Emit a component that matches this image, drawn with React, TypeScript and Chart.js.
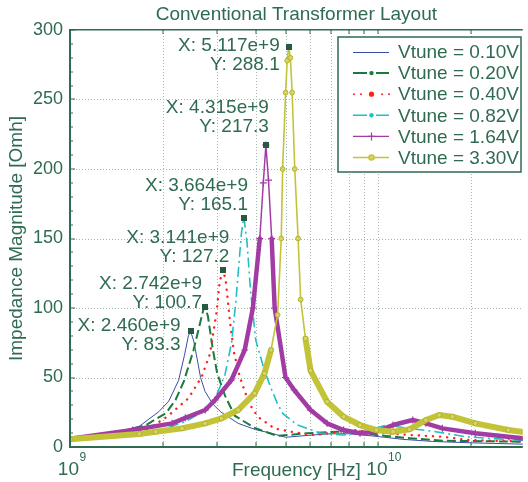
import React, { useEffect, useRef } from 'react';
import { Chart, registerables } from 'chart.js';

Chart.register(...registerables);

const FONT = '"Liberation Sans", Arial, Helvetica, sans-serif';
const INK = '#2e6b50';
const GRID = '#a3b8ac';
const TIP = '#285a40';
const GHZ = 1e9;

const TITLE = 'Conventional Transformer Layout';
const X_TITLE = 'Frequency [Hz]';
const Y_TITLE = 'Impedance Magnitude [Omh]';

const seriesLabels = ['Vtune = 0.10V', 'Vtune = 0.20V', 'Vtune = 0.40V', 'Vtune = 0.82V', 'Vtune = 1.64V', 'Vtune = 3.30V'];

// frequencies in GHz, impedance in Ohm
const f010 = [1.0, 1.4, 1.68, 1.94, 2.09, 2.25, 2.35, 2.42, 2.46, 2.52, 2.6, 2.65, 2.74, 2.9, 3.09, 3.51, 4.0, 4.47, 5.0, 6.0, 7.0, 8.0, 9.0, 10, 12, 15, 20, 30];
const z010 = [5.8, 10.5, 15, 25.4, 33, 48, 66, 80, 83.3, 76, 60, 50, 40, 31, 25, 17, 12.5, 10, 7, 8.5, 9.5, 9.5, 8.5, 7.5, 5.5, 4, 3, 2];

const f020 = [1.0, 1.4, 1.77, 2.05, 2.2, 2.337, 2.51, 2.62, 2.7, 2.742, 2.8, 2.9, 3.0, 3.18, 3.42, 3.97, 4.7, 5.88, 7.35, 8.5, 9.85, 12.6, 16.1, 30];
const z020 = [5.8, 9, 16, 24.5, 34, 47, 69, 86, 98, 100.7, 94, 71, 53, 37, 22.5, 13.7, 8, 9.9, 11, 11, 8.6, 6.3, 4.5, 3.8];

const f040 = [1.0, 1.4, 1.804, 2.066, 2.42, 2.674, 2.843, 2.99, 3.05, 3.1, 3.141, 3.2, 3.3, 3.4, 3.55, 3.8, 4.06, 4.6, 5.2, 6.19, 7.2, 8.28, 9.5, 10.5, 12.6, 16.1, 19.6, 30];
const z040 = [5.5, 8.5, 13.4, 21.8, 35, 50.6, 67, 98, 117, 125, 127.2, 119, 90.5, 68, 50.6, 31.8, 21.8, 13.4, 11, 8.6, 10.5, 12.2, 11, 10, 8.6, 7.4, 5, 3.8];

const f082 = [1.0, 1.5, 2.0, 2.36, 2.67, 2.95, 3.18, 3.34, 3.45, 3.55, 3.6, 3.664, 3.75, 3.85, 4.0, 4.27, 4.49, 4.7, 4.9, 5.46, 6.48, 7.706, 8.93, 10.6, 12.6, 15.34, 19.15, 30];
const z082 = [5.2, 8.1, 12.8, 18.2, 24.8, 34.5, 52, 75, 105, 139, 155, 165.1, 147, 112, 77, 55, 42, 31.4, 24, 15.8, 10, 8.6, 11, 15.8, 13.4, 11, 7.4, 4.5];

const f164 = [1.0, 1.596, 2.144, 2.366, 2.743, 2.953, 3.337, 3.685, 3.916, 4.124, 4.233, 4.315, 4.4, 4.506, 4.608, 4.997, 5.33, 6.024, 6.813, 7.706, 8.712, 9.85, 11.15, 12.92, 14.25, 16.12, 20.61, 30];
const z164 = [6, 12.2, 17, 21, 26.6, 33.8, 48.2, 69.8, 100, 150, 190, 217.3, 192, 150, 100, 50, 41, 26.6, 17, 12.2, 9.9, 11, 15.8, 19.4, 17, 13.4, 9.9, 6];

const f330 = [1.0, 1.676, 1.896, 2.307, 2.743, 3.1, 3.507, 3.967, 4.27, 4.484, 4.71, 4.84, 4.89, 5.0, 5.06, 5.117, 5.18, 5.25, 5.353, 5.489, 5.595, 5.8, 6.024, 6.813, 7.706, 8.712, 9.85, 11.15, 12.6, 14.25, 15.73, 17.36, 20.61, 26.35, 30];
const z330 = [5.5, 9.4, 11, 13.4, 17, 20.6, 26.6, 38.6, 53, 69.8, 95, 150, 200, 255, 278, 288.1, 280, 255, 200, 150, 106, 78, 55, 32.6, 21.8, 15.8, 12.2, 11, 12.7, 19.4, 23, 21.8, 17, 12.2, 10.5];

// data tips (peaks)
const tipFreq = [2.46e9, 2.742e9, 3.141e9, 3.664e9, 4.315e9, 5.117e9];
const tipImp = [83.3, 100.7, 127.2, 165.1, 217.3, 288.1];
// label anchor offsets (px) relative to marker: right edge / first line centre
const tipDx = [-10, -3, 6, 4, 3, -9];
const tipDy = [-5, -23, -32, -31.5, -37, -1];

const xMin = 1e9;
const xMax = 2.937e10;
const yMin = 0;
const yMax = 300;
const yStep = 50;
const yMinorStep = 10;
const xGridValues = [2e9, 3e9, 4e9, 5e9, 6e9, 7e9, 8e9, 9e9, 1e10, 2e10];
const yGridValues = [50, 100, 150, 200, 250];
const xLabelValues = [1e9, 1e10];
const xLabelExp = ['9', '10'];

const COLORS = ['#3a4ea8', '#1c7a3c', '#ff2020', '#22bfc4', '#a23ca4', '#c3c337'];

const pts = (f: number[], z: number[]) => f.map((v, i) => ({ x: v * GHZ, y: z[i] }));

const decor = {
  id: 'decor',
  beforeDatasetsDraw(chart: any) {
    const { ctx, chartArea: a, scales } = chart;
    const x = scales.x, y = scales.y;
    ctx.save();
    ctx.strokeStyle = GRID;
    ctx.lineWidth = 1;
    ctx.setLineDash([1, 2]);
    ctx.beginPath();
    for (const v of xGridValues) {
      const px = Math.round(x.getPixelForValue(v)) + 0.5;
      ctx.moveTo(px, a.top);
      ctx.lineTo(px, a.bottom);
    }
    for (const v of yGridValues) {
      const py = Math.round(y.getPixelForValue(v)) + 0.5;
      ctx.moveTo(a.left, py);
      ctx.lineTo(a.right, py);
    }
    ctx.stroke();
    ctx.restore();
  },
  afterDatasetsDraw(chart: any) {
    const { ctx, chartArea: a, scales } = chart;
    const x = scales.x, y = scales.y;
    ctx.save();
    // axes
    ctx.fillStyle = INK;
    ctx.fillRect(a.left - 1, a.top, 2, a.bottom - a.top + 1);
    ctx.fillRect(a.left - 1, a.bottom - 1, a.right - a.left + 1, 2);
    ctx.fillRect(a.left - 1, a.top - 1, a.right - a.left + 1, 1.5);
    // y ticks
    for (let v = yMin; v <= yMax; v += yMinorStep) {
      const py = Math.round(y.getPixelForValue(v));
      const len = v % yStep === 0 ? 5 : 3;
      ctx.fillRect(a.left, py - 0.5, len, 1);
    }
    // x ticks
    for (const v of xGridValues) {
      const px = Math.round(x.getPixelForValue(v));
      ctx.fillRect(px - 0.5, a.bottom - 5, 1, 5);
      ctx.fillRect(px - 0.5, a.top, 1, 4);
    }
    // x tick labels (10^n)
    ctx.fillStyle = INK;
    ctx.textBaseline = 'alphabetic';
    xLabelValues.forEach((v, i) => {
      const px = x.getPixelForValue(v);
      ctx.font = `19px ${FONT}`;
      ctx.textAlign = 'right';
      ctx.fillText('10', px + 9, 475);
      ctx.font = `12px ${FONT}`;
      ctx.textAlign = 'left';
      ctx.fillText(xLabelExp[i], px + 9.5, 461);
    });
    // data tips
    ctx.font = `19px ${FONT}`;
    ctx.textAlign = 'right';
    ctx.textBaseline = 'middle';
    tipFreq.forEach((f, i) => {
      const px = x.getPixelForValue(f);
      const py = y.getPixelForValue(tipImp[i]);
      ctx.fillStyle = TIP;
      ctx.fillRect(Math.round(px) - 3, Math.round(py) - 3, 6, 6);
      ctx.fillStyle = INK;
      const rx = px + tipDx[i];
      const y1 = py + tipDy[i];
      ctx.fillText(`X: ${(f / 1e9).toFixed(3)}e+9`, rx, y1);
      ctx.fillText(`Y: ${tipImp[i].toFixed(1)}`, rx, y1 + 19);
    });
    // legend
    const lx = 338, ly = 37, lw = 183, lh = 135;
    ctx.fillStyle = '#ffffff';
    ctx.fillRect(lx, ly, lw, lh);
    ctx.strokeStyle = INK;
    ctx.lineWidth = 1.5;
    ctx.setLineDash([]);
    ctx.strokeRect(lx, ly, lw, lh);
    const x0 = 353, x1 = 389, xm = 371.5;
    seriesLabels.forEach((label, i) => {
      const ry = 52 + i * 21.1;
      const c = COLORS[i];
      ctx.strokeStyle = c;
      ctx.fillStyle = c;
      ctx.setLineDash([]);
      if (i === 0) {
        ctx.lineWidth = 1;
        ctx.beginPath(); ctx.moveTo(x0, ry + 0.5); ctx.lineTo(x1, ry + 0.5); ctx.stroke();
      } else if (i === 1 || i === 3) {
        ctx.lineWidth = i === 1 ? 2 : 1.6;
        ctx.beginPath();
        ctx.moveTo(x0, ry); ctx.lineTo(x0 + 14, ry);
        ctx.moveTo(x1 - 13, ry); ctx.lineTo(x1, ry);
        ctx.stroke();
        ctx.beginPath(); ctx.arc(xm, ry, 2.2, 0, Math.PI * 2); ctx.fill();
      } else if (i === 2) {
        [354, 361, 382, 389].forEach((dx) => { ctx.beginPath(); ctx.arc(dx, ry, 1, 0, Math.PI * 2); ctx.fill(); });
        ctx.beginPath(); ctx.arc(xm, ry, 2.6, 0, Math.PI * 2); ctx.fill();
      } else if (i === 4) {
        ctx.lineWidth = 1.2;
        ctx.beginPath(); ctx.moveTo(x0, ry); ctx.lineTo(x1, ry); ctx.stroke();
        ctx.beginPath(); ctx.moveTo(xm, ry - 4); ctx.lineTo(xm, ry + 4); ctx.moveTo(xm - 4, ry); ctx.lineTo(xm + 4, ry); ctx.stroke();
      } else {
        ctx.lineWidth = 1.4;
        ctx.beginPath(); ctx.moveTo(x0, ry); ctx.lineTo(x1, ry); ctx.stroke();
        ctx.fillStyle = '#d2d266';
        ctx.beginPath(); ctx.arc(xm, ry, 2.6, 0, Math.PI * 2); ctx.fill(); ctx.stroke();
      }
      ctx.fillStyle = INK;
      ctx.font = `19px ${FONT}`;
      ctx.textAlign = 'left';
      ctx.textBaseline = 'middle';
      ctx.fillText(label, 398, ry + 1);
    });
    ctx.restore();
  },
};

export default function App() {
  const ref = useRef<HTMLCanvasElement>(null);
  useEffect(() => {
    if (!ref.current) return;
    Chart.defaults.font.family = FONT;
    const thick = (z: number[], lim: number, wide: number, thin: number) => (c: any) =>
      z[c.p0DataIndex] < lim && z[c.p1DataIndex] < lim ? wide : thin;
    const chart = new Chart(ref.current, {
      type: 'line',
      data: {
        datasets: [
          { label: seriesLabels[0], data: pts(f010, z010), borderColor: COLORS[0], borderWidth: 1, pointRadius: 0, order: 5 },
          { label: seriesLabels[1], data: pts(f020, z020), borderColor: COLORS[1], borderWidth: 2, borderDash: [9, 4], pointRadius: 0, order: 4 },
          { label: seriesLabels[2], data: pts(f040, z040), borderColor: COLORS[2], borderWidth: 2.4, borderDash: [0.1, 7], borderCapStyle: 'round', pointRadius: 0, order: 3 },
          { label: seriesLabels[3], data: pts(f082, z082), borderColor: COLORS[3], borderWidth: 1.6, borderDash: [10, 4, 2, 4], pointRadius: 0, order: 2 },
          {
            label: seriesLabels[4], data: pts(f164, z164), borderColor: COLORS[4], borderWidth: 1.5,
            borderJoinStyle: 'round', borderCapStyle: 'round',
            segment: { borderWidth: thick(z164, 155, 4.5, 1.5) },
            pointStyle: 'cross', pointRadius: 3.5, pointBorderWidth: 1.2, pointBorderColor: COLORS[4], order: 1,
          },
          {
            label: seriesLabels[5], data: pts(f330, z330), borderColor: COLORS[5], borderWidth: 1.5,
            borderJoinStyle: 'round', borderCapStyle: 'round',
            segment: { borderWidth: thick(z330, 80, 6, 1.6) },
            pointStyle: 'circle', pointRadius: 2.4, pointBorderWidth: 1, pointBackgroundColor: '#d4d468', pointBorderColor: '#b3b32c', order: 0,
          },
        ],
      } as any,
      options: {
        responsive: false,
        maintainAspectRatio: false,
        animation: false,
        events: [],
        layout: { padding: 0 },
        plugins: {
          legend: { display: false },
          tooltip: { enabled: false },
          title: {
            display: true, text: TITLE, color: INK, fullSize: false,
            font: { family: FONT, size: 19, weight: 'normal' },
            padding: { top: 3.6, bottom: 3.6 },
          },
        },
        scales: {
          x: {
            type: 'logarithmic', min: xMin, max: xMax,
            grid: { display: false, drawTicks: false }, border: { display: false },
            ticks: { display: false },
            title: { display: true, text: X_TITLE, color: INK, font: { family: FONT, size: 19 }, padding: { top: 0, bottom: 0 } },
            afterFit: (s: any) => { s.height = 35; },
          },
          y: {
            min: yMin, max: yMax,
            grid: { display: false, drawTicks: false }, border: { display: false },
            ticks: { stepSize: yStep, color: INK, font: { family: FONT, size: 18 }, padding: 7 },
            title: { display: true, text: Y_TITLE, color: INK, font: { family: FONT, size: 19 }, padding: { top: 5, bottom: 0 } },
            afterFit: (s: any) => { s.width = 70; },
          },
        },
      } as any,
      plugins: [decor],
    });
    return () => chart.destroy();
  }, []);
  return (
    <div style={{ position: 'absolute', left: 0, top: 0, width: 528, height: 482, background: '#ffffff' }}>
      <canvas ref={ref} width={528} height={482} style={{ display: 'block', width: 528, height: 482 }} />
    </div>
  );
}
